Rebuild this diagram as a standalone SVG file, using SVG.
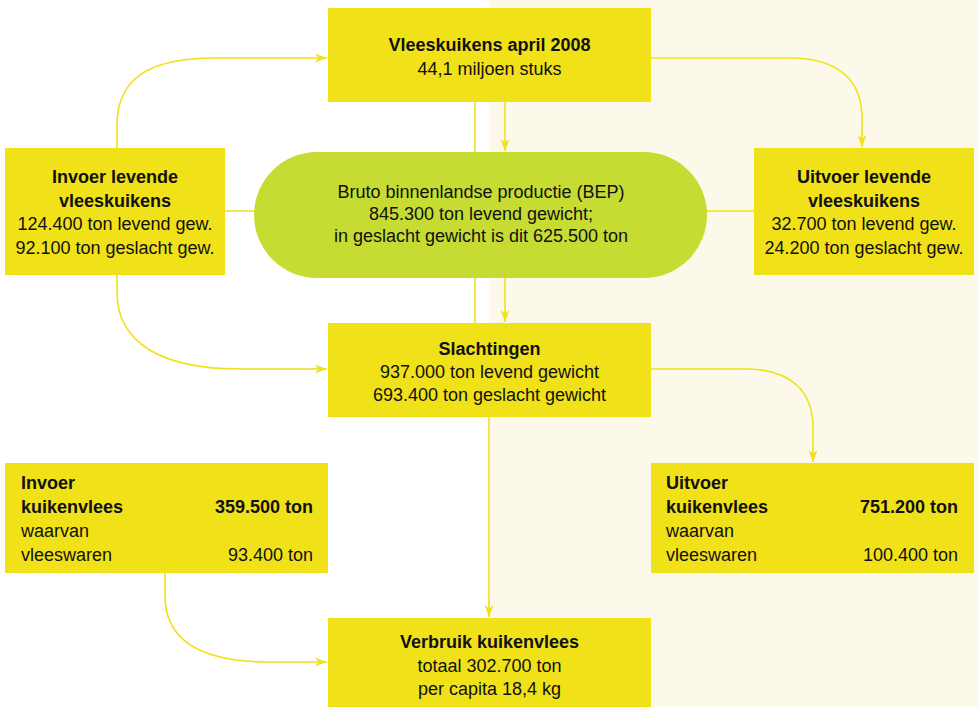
<svg xmlns="http://www.w3.org/2000/svg" width="978" height="707" viewBox="0 0 978 707">
<defs>
<style>
.box{fill:#f1e118;}
.pill{fill:#c6dc32;}
.ln{fill:none;stroke:#f1e118;stroke-width:1.6;}
.t{font-family:"Liberation Sans",Arial,sans-serif;font-size:18px;fill:#111;}
.c{text-anchor:middle;}
.r{text-anchor:end;}
.b{font-weight:bold;}
</style>
<marker id="ah" viewBox="-13 -5 13 10" refX="0" refY="0" markerWidth="13" markerHeight="10" orient="auto" markerUnits="userSpaceOnUse">
<path d="M0,0 L-12,-4.5 L-8.5,0 L-12,4.5 Z" fill="#f1e118"/>
</marker>
</defs>
<rect x="0" y="0" width="978" height="707" fill="#ffffff"/>
<rect x="489" y="0" width="489" height="707" fill="#fdf9ea"/>

<g id="connectors">
<path class="ln" d="M475,102 V323"/>
<path class="ln" d="M225,211 H754"/>
<path class="ln" d="M505,102 V151" marker-end="url(#ah)"/>
<path class="ln" d="M505,278 V322" marker-end="url(#ah)"/>
<path class="ln" d="M489,417 V617" marker-end="url(#ah)"/>
<path class="ln" d="M117,148 V125 C117,78 150,58 215,58 H327" marker-end="url(#ah)"/>
<path class="ln" d="M651,58 H790 C840,58 862,82 862,118 V147" marker-end="url(#ah)"/>
<path class="ln" d="M117,275 V292 C117,342 160,369 240,369 H327" marker-end="url(#ah)"/>
<path class="ln" d="M651,369 H745 C792,369 813,392 813,428 V462" marker-end="url(#ah)"/>
<path class="ln" d="M165,572 V596 C165,640 200,662 270,662 H327" marker-end="url(#ah)"/>
</g>

<g id="vleeskuikens">
<rect class="box" x="328" y="8" width="323" height="94"/>
<text class="t c b" x="489.5" y="51">Vleeskuikens april 2008</text>
<text class="t c" x="489.5" y="75">44,1 miljoen stuks</text>
</g>

<g id="invoer-levend">
<rect class="box" x="5" y="148" width="220" height="127"/>
<text class="t c b" x="115" y="183">Invoer levende</text>
<text class="t c b" x="115" y="206.5">vleeskuikens</text>
<text class="t c" x="115" y="230">124.400 ton levend gew.</text>
<text class="t c" x="115" y="253.5">92.100 ton geslacht gew.</text>
</g>

<g id="uitvoer-levend">
<rect class="box" x="754" y="148" width="220" height="127"/>
<text class="t c b" x="864" y="183">Uitvoer levende</text>
<text class="t c b" x="864" y="206.5">vleeskuikens</text>
<text class="t c" x="864" y="230">32.700 ton levend gew.</text>
<text class="t c" x="864" y="253.5">24.200 ton geslacht gew.</text>
</g>

<g id="bep">
<rect class="pill" x="254" y="152" width="453" height="126" rx="63" ry="63"/>
<text class="t c" x="481" y="198">Bruto binnenlandse productie (BEP)</text>
<text class="t c" x="481" y="220">845.300 ton levend gewicht;</text>
<text class="t c" x="481" y="242">in geslacht gewicht is dit 625.500 ton</text>
</g>

<g id="slachtingen">
<rect class="box" x="328" y="323" width="323" height="94"/>
<text class="t c b" x="489.5" y="354.5">Slachtingen</text>
<text class="t c" x="489.5" y="378">937.000 ton levend gewicht</text>
<text class="t c" x="489.5" y="401">693.400 ton geslacht gewicht</text>
</g>

<g id="invoer-vlees">
<rect class="box" x="5" y="463" width="323" height="110"/>
<text class="t b" x="21" y="489">Invoer</text>
<text class="t b" x="21" y="513">kuikenvlees</text>
<text class="t r b" x="313" y="513">359.500 ton</text>
<text class="t" x="21" y="537">waarvan</text>
<text class="t" x="21" y="561">vleeswaren</text>
<text class="t r" x="313" y="561">93.400 ton</text>
</g>

<g id="uitvoer-vlees">
<rect class="box" x="651" y="463" width="323" height="110"/>
<text class="t b" x="666" y="489">Uitvoer</text>
<text class="t b" x="666" y="513">kuikenvlees</text>
<text class="t r b" x="958" y="513">751.200 ton</text>
<text class="t" x="666" y="537">waarvan</text>
<text class="t" x="666" y="561">vleeswaren</text>
<text class="t r" x="958" y="561">100.400 ton</text>
</g>

<g id="verbruik">
<rect class="box" x="328" y="618" width="323" height="89"/>
<text class="t c b" x="489.5" y="648">Verbruik kuikenvlees</text>
<text class="t c" x="489.5" y="671.5">totaal 302.700 ton</text>
<text class="t c" x="489.5" y="695">per capita 18,4 kg</text>
</g>
</svg>
